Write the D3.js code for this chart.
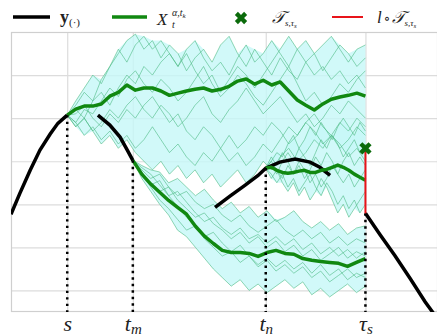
<!DOCTYPE html>
<html>
<head>
<meta charset="utf-8">
<script src="https://cdn.jsdelivr.net/npm/d3@7"></script>
<style>
  body { margin: 0; background: #fff; }
  svg text { font-family: "Liberation Serif", "DejaVu Serif", serif; fill: #222; }
</style>
</head>
<body>
<svg id="chart" width="437" height="336"></svg>
<script>
// ---- data ----
// time axis ticks (s, t_m, t_n, tau_s)
const tickTimes = [13.2, 28.6, 59.8, 83.2];
const tickMain = ['s', 't', 't', 'τ'];
const tickSub = ['', 'm', 'n', 's'];
const yGrid = [0, 10, 20, 30, 40, 50];

// y(.) curve, null = break
const blackT = [0, 2.1, 4.5, 6.8, 9.2, 11.0, 13.2, null,
  20.4, 23.2, 25.6, 27.3, 28.6, null,
  47.9, 51.4, 54.9, 58.0, 59.8, 63.1, 66.7, 70.2, 72.5, 74.9, null,
  83.2, 86.6, 90.1, 93.7, 97.2, 100.7];
const blackY = [17.7, 22.6, 27.9, 32.6, 36.3, 38.8, 40.7, null,
  40.7, 38.4, 35.6, 32.6, 30.2, null,
  19.3, 21.9, 24.4, 26.7, 28.4, 29.8, 30.5, 29.8, 28.6, 26.7, null,
  17.9, 13.0, 8.1, 2.8, -2.6, -7.4];

// T_{s,tau_s} marker value
const markerValue = 33.0;

// bundle from s
const timesA = [13.2, 15.2, 17.2, 19.2, 21.2, 23.2, 25.2, 27.2, 29.2, 31.2, 33.2, 35.2,
  37.2, 39.2, 41.2, 43.2, 45.2, 47.2, 49.2, 51.2, 53.2, 55.2, 57.2, 59.2,
  61.2, 63.2, 65.2, 67.2, 69.2, 71.2, 73.2, 75.2, 77.2, 79.2, 81.2, 83.2];
const meanA = [40.7, 42.1, 42.8, 42.8, 43.3, 45.1, 46.0, 47.7, 46.5, 47.0, 47.0, 46.3,
  45.3, 45.8, 46.3, 46.7, 47.0, 46.3, 46.7, 47.4, 48.6, 49.1, 47.9, 48.8,
  47.7, 48.4, 46.3, 44.2, 43.0, 41.9, 43.3, 44.4, 44.9, 45.3, 45.8, 45.1];
const samplesA = [
  [40.7, 43, 46, 44, 49, 52, 55, 58, 59.5, 56, 58, 54, 57, 55, 51, 54, 56, 53, 57, 59, 55, 52, 56, 53, 50, 54, 51, 49, 53, 55, 51, 54, 57, 55, 52, 54],
  [40.7, 42, 40, 44, 46, 43, 47, 50, 48, 52, 50, 53, 55, 52, 56, 58, 54, 51, 53, 50, 54, 57, 53, 55, 58, 55, 52, 56, 53, 50, 52, 49, 51, 48, 50, 47],
  [40.7, 39, 42, 41, 44, 47, 45, 49, 51, 48, 46, 49, 47, 44, 46, 49, 52, 48, 45, 47, 50, 48, 45, 43, 46, 49, 52, 48, 44, 46, 43, 45, 48, 46, 49, 51],
  [40.7, 38, 40, 37, 39, 42, 40, 43, 45, 42, 40, 43, 41, 38, 40, 43, 45, 41, 39, 42, 44, 47, 44, 41, 43, 45, 42, 39, 41, 38, 40, 43, 41, 44, 42, 40],
  [40.7, 39, 36, 38, 35, 37, 34, 36, 33, 35, 38, 35, 32, 34, 31, 29, 32, 30, 33, 36, 33, 35, 38, 36, 39, 37, 34, 36, 39, 41, 38, 36, 39, 37, 40, 38],
  [40.7, 38, 40, 37, 34, 36, 33, 35, 32, 30, 28, 30, 27, 29, 26, 28, 25, 27, 24, 26, 28, 25, 27, 30, 28, 31, 33, 30, 32, 35, 33, 36, 34, 31, 33, 30],
  [40.7, 44, 47, 50, 48, 52, 56, 53, 57, 59, 56, 58, 55, 52, 55, 51, 48, 50, 46, 49, 52, 50, 47, 50, 53, 56, 59, 56, 58, 55, 57, 59, 56, 53, 56, 57],
  [40.7, 41, 43, 40, 38, 41, 39, 42, 40, 43, 45, 42, 39, 41, 37, 35, 38, 36, 33, 30, 32, 29, 31, 34, 32, 35, 38, 36, 39, 37, 34, 36, 33, 35, 38, 36]
];

// bundle from t_m
const timesB = [28.6, 30.7, 32.8, 34.9, 37.0, 39.1, 41.2, 43.3, 45.4, 47.5, 49.6, 51.7, 53.8, 55.9,
  58.0, 60.1, 62.2, 64.3, 66.4, 68.5, 70.6, 72.7, 74.8, 76.9, 79.0, 81.1, 83.2];
const meanB = [30.2, 27.0, 24.7, 22.8, 20.9, 19.3, 17.7, 14.9, 12.6, 10.9, 9.3, 8.8, 8.8, 8.6,
  7.9, 8.8, 9.3, 8.6, 8.4, 7.4, 7.0, 6.7, 6.5, 6.3, 5.6, 6.5, 7.4];
const samplesB = [
  [30.2, 29, 28, 27.5, 25, 26, 24, 22, 23.5, 21, 19, 20.5, 18, 19.5, 17, 18.5, 16, 17, 18.5, 16, 14.5, 16, 14, 15.5, 13, 14.5, 15],
  [30.2, 28, 26, 27, 24, 22, 23, 20.5, 19, 20, 17.5, 16, 17.5, 15, 13.5, 15, 16.5, 14, 12.5, 14, 12, 13.5, 11, 12.5, 10.5, 12, 11],
  [30.2, 27, 25, 23, 24, 21, 19, 17, 18, 15.5, 14, 12, 13.5, 11, 12.5, 10, 11.5, 9, 10.5, 8, 9.5, 7, 8.5, 10, 7.5, 9, 8],
  [30.2, 27.5, 24, 21, 19, 16.5, 14, 15, 12, 10, 8, 9, 6.5, 8, 5.5, 7, 4.5, 6, 4, 5.5, 3, 4.5, 2, 3.5, 5, 3, 4],
  [30.2, 26, 23, 20, 17.5, 14, 12.5, 10, 7.5, 5, 3, 1, 2.5, 0, 1.5, -0.5, 1, 2.5, 0.5, 2, -1, 0.5, -1.5, 0, 1.5, -0.5, 1],
  [30.2, 28.5, 27, 24.5, 22, 23, 20.5, 18, 16, 17, 14.5, 13, 14.5, 12, 13, 11, 12.5, 10.5, 12, 9.5, 11, 8.5, 10, 8, 9.5, 7.5, 9],
  [30.2, 27, 24.5, 25.5, 22, 19.5, 17, 15, 12.5, 13.5, 11, 9, 10.5, 8, 6, 7.5, 5.5, 7, 5, 6.5, 4, 6, 3.5, 5, 2.5, 4, 3]
];

// bundle from t_n
const timesC = [59.8, 61.1, 62.4, 63.7, 65.0, 66.3, 67.6, 68.9, 70.2, 71.5, 72.8, 74.1,
  75.4, 76.7, 78.0, 79.3, 80.6, 81.9, 83.2];
const meanC = [28.4, 28.6, 27.9, 27.4, 27.2, 27.4, 27.7, 27.9, 27.4, 27.4, 27.9, 28.1,
  28.6, 29.1, 28.6, 27.9, 27.0, 26.3, 25.6];
const samplesC = [
  [28.4, 30, 32, 31, 34, 36, 33, 35, 38, 36, 39, 37, 35, 38, 40, 38, 36, 39, 37],
  [28.4, 29, 27, 30, 32, 30, 33, 31, 29, 32, 35, 33, 36, 34, 31, 33, 35, 32, 34],
  [28.4, 27, 25, 27, 24, 26, 23, 25, 27, 24, 22, 25, 23, 20, 22, 19, 21, 18, 20],
  [28.4, 30, 28, 26, 29, 27, 30, 28, 25, 27, 24, 26, 29, 27, 30, 32, 29, 31, 29],
  [28.4, 26, 28, 25, 23, 25, 22, 24, 21, 23, 26, 24, 21, 18, 20, 17, 19, 21, 23],
  [28.4, 31, 29, 32, 30, 27, 29, 26, 28, 31, 29, 32, 30, 27, 25, 27, 24, 26, 28]
];

// ---- layout ----
const plot = {left: 11, right: 437, top: 32, bottom: 312};
const gridColor = '#dcdcdc';
const meanColor = '#118811';
const markColor = '#0b6b0b';

const x = d3.scaleLinear().domain([0, 100]).range([plot.left, plot.right]);
const y = d3.scaleLinear().domain([-5, 60]).range([plot.bottom, plot.top]);

const svg = d3.select('#chart');

svg.append('defs').append('clipPath')
  .attr('id', 'plot-clip')
  .append('rect')
  .attr('x', plot.left)
  .attr('y', plot.top)
  .attr('width', plot.right - plot.left)
  .attr('height', plot.bottom - plot.top);

// grid
svg.append('g')
  .attr('transform', 'translate(0,' + plot.bottom + ')')
  .call(d3.axisBottom(x).tickValues(tickTimes).tickSize(-(plot.bottom - plot.top)).tickFormat(''))
  .call(g => g.select('.domain').remove())
  .call(g => g.selectAll('.tick line').attr('stroke', gridColor).attr('stroke-width', 1.2));

svg.append('g')
  .attr('transform', 'translate(' + plot.left + ',0)')
  .call(d3.axisLeft(y).tickValues(yGrid).tickSize(-(plot.right - plot.left)).tickFormat(''))
  .call(g => g.select('.domain').remove())
  .call(g => g.selectAll('.tick line').attr('stroke', gridColor).attr('stroke-width', 1.2));

svg.append('rect')
  .attr('x', plot.left + 0.5)
  .attr('y', plot.top + 0.5)
  .attr('width', plot.right - plot.left)
  .attr('height', plot.bottom - plot.top - 1)
  .attr('fill', 'none')
  .attr('stroke', '#cfcfcf')
  .attr('stroke-width', 1.2);

// tick labels
const xLabels = svg.append('g')
  .attr('transform', 'translate(0,' + plot.bottom + ')')
  .call(d3.axisBottom(x).tickValues(tickTimes).tickSize(0).tickFormat(''))
  .call(g => g.select('.domain').remove());

xLabels.selectAll('.tick').each(function (d, i) {
  const t = d3.select(this).append('text')
    .attr('y', 19)
    .attr('text-anchor', 'middle')
    .attr('font-style', 'italic');
  t.append('tspan').attr('font-size', 22).text(tickMain[i]);
  if (tickSub[i]) {
    t.append('tspan').attr('font-size', 15).attr('dy', 3).text(tickSub[i]);
  }
});

// bundles
const bundles = [
  {times: timesA, mean: meanA, samples: samplesA},
  {times: timesB, mean: meanB, samples: samplesB},
  {times: timesC, mean: meanC, samples: samplesC}
];

const plotArea = svg.append('g').attr('clip-path', 'url(#plot-clip)');

const fills = plotArea.append('g');
const thin = plotArea.append('g');

bundles.forEach(b => {
  // spread of the sampled paths
  const lo = b.times.map((t, i) => d3.min(b.samples, s => s[i]));
  const hi = b.times.map((t, i) => d3.max(b.samples, s => s[i]));
  const band = d3.area()
    .x(d => x(d))
    .y0((d, i) => y(lo[i]))
    .y1((d, i) => y(hi[i]));
  const path = d3.line()
    .x((d, i) => x(b.times[i]))
    .y(d => y(d));

  fills.append('path')
    .datum(b.times)
    .attr('d', band)
    .attr('fill', '#c6f8f8')
    .attr('fill-opacity', 0.8);

  thin.selectAll(null)
    .data(b.samples)
    .join('path')
    .attr('d', path)
    .attr('fill', 'none')
    .attr('stroke', '#4cbb84')
    .attr('stroke-opacity', 0.6)
    .attr('stroke-width', 1);
});

// y(.) curve
const blackLine = d3.line()
  .defined(d => d[1] !== null)
  .x(d => x(d[0]))
  .y(d => y(d[1]));

plotArea.append('path')
  .datum(blackT.map((t, i) => [t, blackY[i]]))
  .attr('d', blackLine)
  .attr('fill', 'none')
  .attr('stroke', '#000')
  .attr('stroke-width', 3.5);

// mean paths
bundles.forEach(b => {
  plotArea.append('path')
    .datum(b.mean)
    .attr('d', d3.line().x((d, i) => x(b.times[i])).y(d => y(d)))
    .attr('fill', 'none')
    .attr('stroke', meanColor)
    .attr('stroke-width', 3.5)
    .attr('stroke-linejoin', 'round');
});

// dotted drops from the curve to the axis
const blackAt = t => blackY[blackT.indexOf(t)];

plotArea.selectAll('line.drop')
  .data(tickTimes)
  .join('line')
  .attr('class', 'drop')
  .attr('x1', d => x(d))
  .attr('x2', d => x(d))
  .attr('y1', d => y(blackAt(d)))
  .attr('y2', y(-5))
  .attr('stroke', '#000')
  .attr('stroke-width', 2.5)
  .attr('stroke-dasharray', '2.4 4.1');

// red jump line and marker
const tauS = tickTimes[3];
svg.append('line')
  .attr('x1', x(tauS))
  .attr('x2', x(tauS))
  .attr('y1', y(blackAt(tauS)))
  .attr('y2', y(markerValue))
  .attr('stroke', '#e8141a')
  .attr('stroke-width', 2);

const cross = d3.symbol(d3.symbolCross, 95);
svg.append('path')
  .attr('d', cross)
  .attr('transform', 'translate(' + x(tauS) + ',' + y(markerValue) + ') rotate(45)')
  .attr('fill', markColor);

// legend
const legend = svg.append('g');

legend.append('line')
  .attr('x1', 13).attr('x2', 50).attr('y1', 17).attr('y2', 17)
  .attr('stroke', '#000').attr('stroke-width', 3.5);
const l1 = legend.append('text').attr('x', 60).attr('y', 23);
l1.append('tspan').attr('font-size', 18).attr('font-weight', 'bold').text('y');
l1.append('tspan').attr('font-size', 11).attr('dy', 3).text('(·)');

legend.append('line')
  .attr('x1', 112).attr('x2', 147).attr('y1', 17).attr('y2', 17)
  .attr('stroke', meanColor).attr('stroke-width', 3.5);
legend.append('text').attr('x', 157).attr('y', 25)
  .attr('font-size', 17).attr('font-style', 'italic').text('X');
const sup = legend.append('text').attr('x', 172).attr('y', 16)
  .attr('font-size', 10).attr('font-style', 'italic');
sup.append('tspan').text('α,t');
sup.append('tspan').attr('font-size', 7).attr('dy', 2).text('k');
legend.append('text').attr('x', 172).attr('y', 28)
  .attr('font-size', 10).attr('font-style', 'italic').text('t');

legend.append('path')
  .attr('d', cross)
  .attr('transform', 'translate(241,18) rotate(45)')
  .attr('fill', markColor);
const l3 = legend.append('text').attr('x', 272).attr('y', 23).attr('font-style', 'italic');
l3.append('tspan').attr('font-size', 17).text('𝒯');
l3.append('tspan').attr('font-size', 9).attr('dy', 3).text('s,τ');
l3.append('tspan').attr('font-size', 7).attr('dy', 2).text('s');

legend.append('line')
  .attr('x1', 332).attr('x2', 363).attr('y1', 17).attr('y2', 17)
  .attr('stroke', '#e8141a').attr('stroke-width', 2);
const l4 = legend.append('text').attr('x', 377).attr('y', 23).attr('font-style', 'italic');
l4.append('tspan').attr('font-size', 17).text('l');
l4.append('tspan').attr('font-size', 14).attr('font-style', 'normal').attr('dx', 2).text('∘');
l4.append('tspan').attr('font-size', 17).attr('dx', 1).text('𝒯');
l4.append('tspan').attr('font-size', 9).attr('dy', 3).text('s,τ');
l4.append('tspan').attr('font-size', 7).attr('dy', 2).text('s');
</script>
</body>
</html>
